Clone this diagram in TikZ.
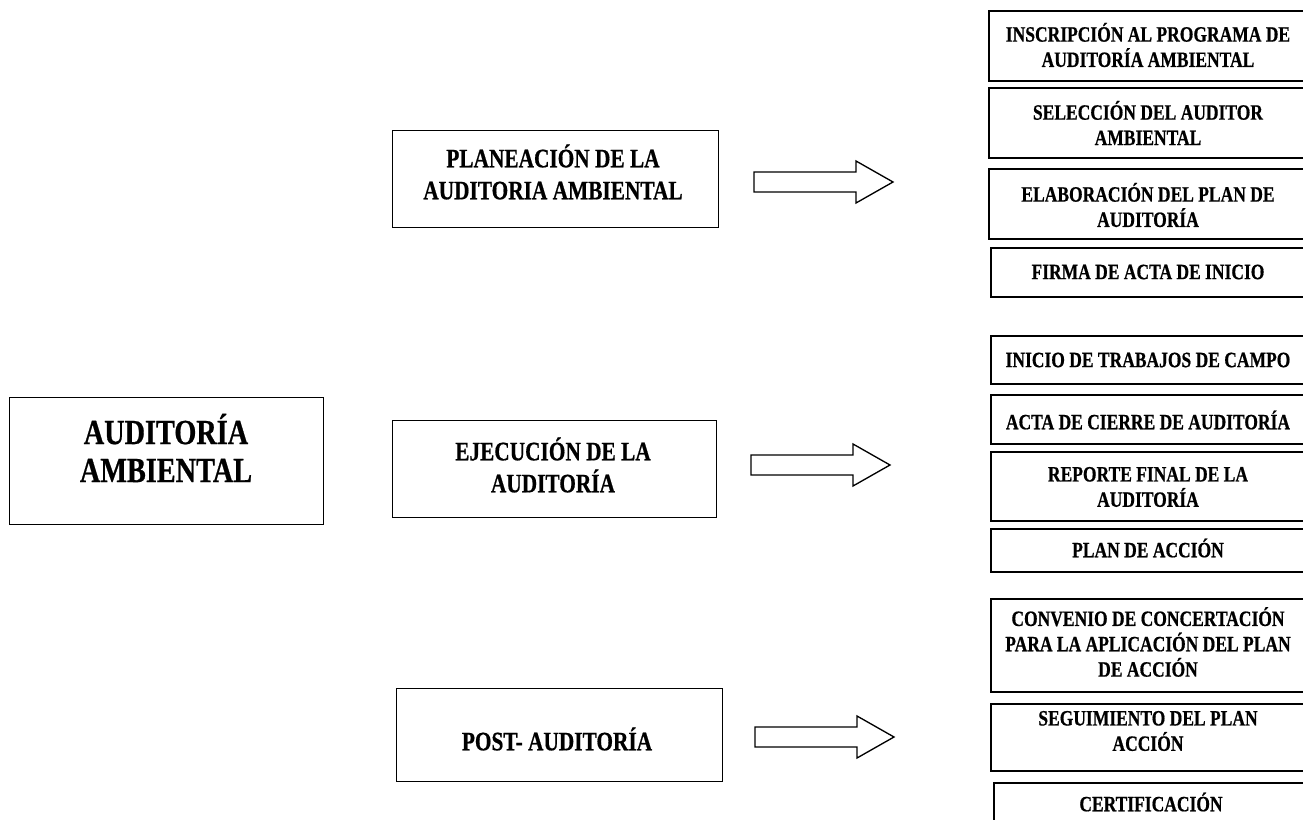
\documentclass[tikz,border=0pt]{standalone}
\usepackage{fontspec}
\newfontfamily\cb[FakeStretch=0.8, BoldFeatures={FakeBold=0.6}]{Liberation Serif}
\begin{document}
\begin{tikzpicture}[x=0.75pt,y=-0.75pt,
  box/.style={draw, line width=1.1pt, inner sep=0pt, anchor=north west},
  rbox/.style={box, line width=1.4pt},
  sz/.style 2 args={minimum width=#1*0.75pt, minimum height=#2*0.75pt},
  rtxt/.style={font=\cb\bfseries\fontsize{16.4}{19}\selectfont, align=center, inner sep=0pt},
  mtxt/.style={font=\cb\bfseries\fontsize{20}{24}\selectfont, align=center, inner sep=0pt},
  btxt/.style={font=\cb\bfseries\fontsize{26.5}{28.5}\selectfont, align=center, inner sep=0pt},
  barrow/.style={draw, line width=1pt, fill=white},
  blockarrow/.pic={\draw[barrow] (0,-10) -- (102,-10) -- (102,-21) -- (139,0) -- (102,21) -- (102,10) -- (0,10) -- cycle;}
]
\useasboundingbox (0,0) rectangle (1303,820);

% main box
\node[box, sz={314}{127}] (main) at (9,397) {};
\node[btxt] (maint) at (166,448) {AUDITORÍA\\AMBIENTAL};

% middle boxes
\node[box, sz={326}{97}] (plan) at (392,130) {};
\node[mtxt] (plant) at (553,172) {PLANEACIÓN DE LA\\AUDITORIA AMBIENTAL};
\node[box, sz={324}{97}] (ejec) at (392,420) {};
\node[mtxt] (eject) at (553,465) {EJECUCIÓN DE LA\\AUDITORÍA};
\node[box, sz={326}{93}] (post) at (396,688) {};
\node[mtxt] (postt) at (557,739) {POST- AUDITORÍA};

% block arrows
\coordinate (a1) at (754,182);
\coordinate (a2) at (751,465);
\coordinate (a3) at (755,737);
\pic at (a1) {blockarrow};
\pic at (a2) {blockarrow};
\pic at (a3) {blockarrow};

% right column
\node[rbox, sz={325}{70}] (r1) at (988,10) {};
\node[rtxt] (r1t) at (1148,45) {INSCRIPCIÓN AL PROGRAMA DE\\AUDITORÍA AMBIENTAL};
\node[rbox, sz={325}{70}] (r2) at (988,87) {};
\node[rtxt] (r2t) at (1148,123) {SELECCIÓN DEL AUDITOR\\AMBIENTAL};
\node[rbox, sz={325}{70}] (r3) at (988,168) {};
\node[rtxt] (r3t) at (1148,205) {ELABORACIÓN DEL PLAN DE\\AUDITORÍA};
\node[rbox, sz={323}{49}] (r4) at (990,247) {};
\node[rtxt] (r4t) at (1148,272) {FIRMA DE ACTA DE INICIO};

\node[rbox, sz={323}{48}] (r5) at (990,335) {};
\node[rtxt] (r5t) at (1148,360) {INICIO DE TRABAJOS DE CAMPO};
\node[rbox, sz={323}{49}] (r6) at (990,394) {};
\node[rtxt] (r6t) at (1148,420) {ACTA DE CIERRE DE AUDITORÍA};
\node[rbox, sz={323}{69}] (r7) at (990,451) {};
\node[rtxt] (r7t) at (1148,487) {REPORTE FINAL DE LA\\AUDITORÍA};
\node[rbox, sz={323}{43}] (r8) at (990,528) {};
\node[rtxt] (r8t) at (1148,548) {PLAN DE ACCIÓN};

\node[rbox, sz={323}{93}] (r9) at (990,598) {};
\node[rtxt] (r9t) at (1148,642) {CONVENIO DE CONCERTACIÓN\\PARA LA APLICACIÓN DEL PLAN\\DE ACCIÓN};
\node[rbox, sz={323}{67}] (r10) at (990,703) {};
\node[rtxt] (r10t) at (1148,731) {SEGUIMIENTO DEL PLAN\\ACCIÓN};
\node[rbox, sz={320}{60}] (r11) at (993,782) {};
\node[rtxt] (r11t) at (1151,802) {CERTIFICACIÓN};
\end{tikzpicture}
\end{document}
